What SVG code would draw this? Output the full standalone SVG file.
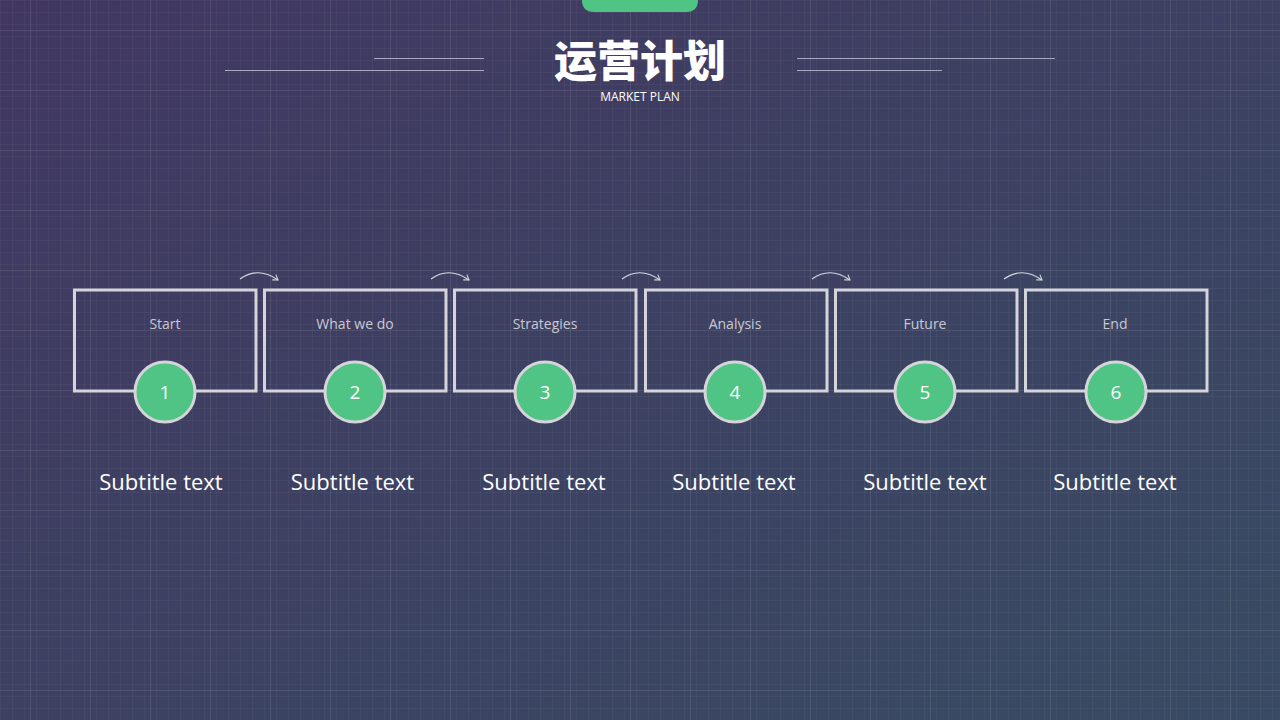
<svg xmlns="http://www.w3.org/2000/svg" width="1280" height="720" viewBox="0 0 1280 720">
<defs>
<linearGradient id="bg" x1="0" y1="0" x2="1" y2="1">
<stop offset="0" stop-color="#413761"/>
<stop offset="1" stop-color="#384b63"/>
</linearGradient>
<pattern id="minor" width="12" height="12" patternUnits="userSpaceOnUse">
<path d="M0 0.5H12M0.5 0V12" stroke="#ffffff" stroke-opacity="0.035" stroke-width="1" fill="none"/>
</pattern>
<pattern id="major" x="30" y="30" width="60" height="60" patternUnits="userSpaceOnUse">
<path d="M0 0.5H60M0.5 0V60" stroke="#ffffff" stroke-opacity="0.09" stroke-width="1" fill="none"/>
</pattern>
<marker id="ah" viewBox="0 0 10 10" refX="7" refY="5" markerWidth="8" markerHeight="8" orient="auto" markerUnits="userSpaceOnUse">
<path d="M1 1L7 5L1 9" fill="none" stroke="#d8d8e0" stroke-width="1.3"/>
</marker>
<style>
.box{fill:none;stroke:#d4d4da;stroke-width:3}
.circ{fill:#50c484;stroke:#d4d4da;stroke-width:3}
.num{font-family:"Open Sans","Liberation Sans",sans-serif;font-size:19px;fill:#ffffff;text-anchor:middle}
.lbl{font-family:"Open Sans","Liberation Sans",sans-serif;font-size:14px;fill:#c9c9d2;text-anchor:middle}
.sub{font-family:"Open Sans","Liberation Sans",sans-serif;font-size:22px;fill:#ffffff;text-anchor:middle}
.deco{stroke:#a9a9c4;stroke-width:1}
.arr{fill:none;stroke:#d8d8e0;stroke-width:1.2;marker-end:url(#ah)}
</style>
</defs>
<rect width="1280" height="720" fill="url(#bg)"/>
<rect width="1280" height="720" fill="url(#minor)"/>
<rect width="1280" height="720" fill="url(#major)"/>

<g id="header">
<path d="M582 0H698V0Q698 12 686 12H594Q582 12 582 0Z" fill="#50c484"/>
<line class="deco" x1="374" y1="58.5" x2="484" y2="58.5"/>
<line class="deco" x1="225" y1="70.5" x2="484" y2="70.5"/>
<line class="deco" x1="797" y1="58.5" x2="1055" y2="58.5"/>
<line class="deco" x1="797" y1="70.5" x2="942" y2="70.5"/>
<text x="640" y="77" font-family="'Noto Sans CJK SC',sans-serif" font-size="43" font-weight="900" fill="#ffffff" text-anchor="middle">运营计划</text>
<text x="640" y="101" font-family="'Open Sans','Liberation Sans',sans-serif" font-size="12" fill="#ffffff" text-anchor="middle">MARKET PLAN</text>
</g>

<g id="connectors">
<path class="arr" d="M240 279Q258 266 278 280"/>
<path class="arr" d="M431 279Q449 266 469 280"/>
<path class="arr" d="M622 279Q640 266 660 280"/>
<path class="arr" d="M812 279Q830 266 850 280"/>
<path class="arr" d="M1004 279Q1022 266 1042 280"/>
</g>

<g id="step1">
<rect class="box" x="74.5" y="290" width="181.5" height="101"/>
<text class="lbl" x="165" y="329">Start</text>
<circle class="circ" cx="165" cy="392" r="30"/>
<text class="num" x="165" y="399">1</text>
<text class="sub" x="161" y="490">Subtitle text</text>
</g>
<g id="step2">
<rect class="box" x="264.5" y="290" width="181.5" height="101"/>
<text class="lbl" x="355" y="329">What we do</text>
<circle class="circ" cx="355" cy="392" r="30"/>
<text class="num" x="355" y="399">2</text>
<text class="sub" x="352.5" y="490">Subtitle text</text>
</g>
<g id="step3">
<rect class="box" x="454.5" y="290" width="181.5" height="101"/>
<text class="lbl" x="545" y="329">Strategies</text>
<circle class="circ" cx="545" cy="392" r="30"/>
<text class="num" x="545" y="399">3</text>
<text class="sub" x="544" y="490">Subtitle text</text>
</g>
<g id="step4">
<rect class="box" x="645.5" y="290" width="181.5" height="101"/>
<text class="lbl" x="735" y="329">Analysis</text>
<circle class="circ" cx="735" cy="392" r="30"/>
<text class="num" x="735" y="399">4</text>
<text class="sub" x="734" y="490">Subtitle text</text>
</g>
<g id="step5">
<rect class="box" x="835.5" y="290" width="181.5" height="101"/>
<text class="lbl" x="925" y="329">Future</text>
<circle class="circ" cx="925" cy="392" r="30"/>
<text class="num" x="925" y="399">5</text>
<text class="sub" x="925" y="490">Subtitle text</text>
</g>
<g id="step6">
<rect class="box" x="1025.5" y="290" width="181.5" height="101"/>
<text class="lbl" x="1115" y="329">End</text>
<circle class="circ" cx="1116" cy="392" r="30"/>
<text class="num" x="1116" y="399">6</text>
<text class="sub" x="1115" y="490">Subtitle text</text>
</g>
</svg>
